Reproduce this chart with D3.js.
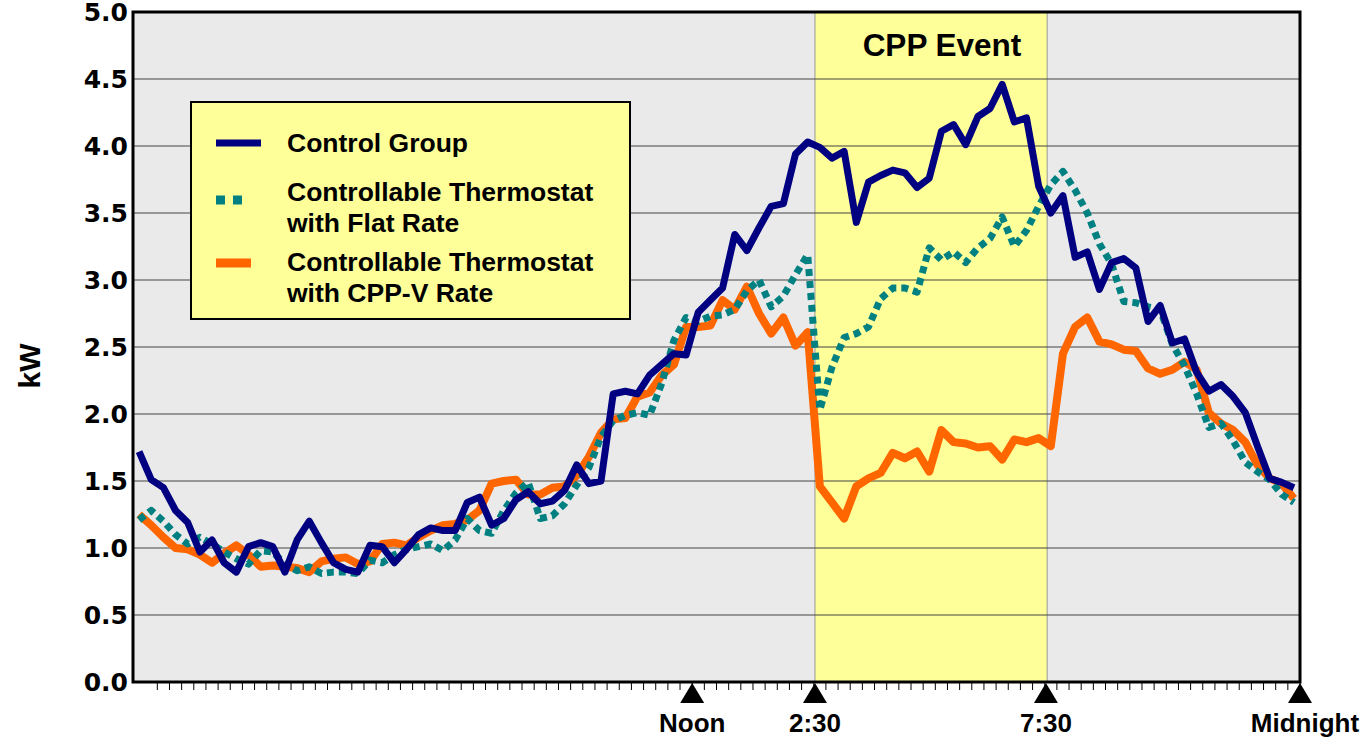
<!DOCTYPE html>
<html>
<head>
<meta charset="utf-8">
<script src="https://cdn.jsdelivr.net/npm/d3@7"></script>
<style>
  body { margin: 0; background: #fff; }
  svg text { font-family: "Liberation Sans", Arial, sans-serif; font-weight: bold; fill: #000; }
  .ytick { font-family: "DejaVu Sans", Verdana, sans-serif; }
</style>
</head>
<body>
<svg id="chart" width="1367" height="739"></svg>
<script>
// 15-minute intervals, midnight to midnight
const controlGroup = [1.72,1.51,1.45,1.28,1.19,0.97,1.06,0.89,0.82,1.01,1.04,1.01,0.82,1.06,1.20,1.04,
  0.89,0.84,0.82,1.02,1.01,0.89,0.99,1.10,1.15,1.13,1.13,1.34,1.38,1.17,1.22,1.36,
  1.42,1.33,1.35,1.43,1.62,1.48,1.50,2.15,2.17,2.15,2.29,2.37,2.45,2.44,2.76,2.85,
  2.94,3.34,3.22,3.39,3.55,3.57,3.94,4.03,3.99,3.91,3.96,3.43,3.73,3.78,3.82,3.80,
  3.69,3.76,4.11,4.16,4.01,4.22,4.28,4.46,4.18,4.21,3.70,3.50,3.63,3.17,3.21,2.93,
  3.13,3.16,3.09,2.69,2.81,2.53,2.56,2.31,2.17,2.22,2.13,2.01,1.76,1.52,1.49,1.45];

const flatRate = [1.21,1.28,1.20,1.10,1.03,1.08,1.03,0.97,0.92,0.88,0.98,0.97,0.88,0.83,0.86,0.81,
  0.82,0.82,0.81,0.91,0.89,0.95,0.99,1.01,1.03,0.98,1.06,1.22,1.13,1.11,1.28,1.41,
  1.49,1.22,1.24,1.33,1.47,1.60,1.83,1.95,1.99,2.01,1.99,2.23,2.55,2.72,2.69,2.73,
  2.74,2.78,2.92,3.00,2.80,2.88,3.04,3.19,2.03,2.35,2.57,2.60,2.65,2.86,2.94,2.94,
  2.91,3.24,3.15,3.21,3.13,3.24,3.31,3.47,3.25,3.37,3.55,3.71,3.81,3.67,3.50,3.27,
  3.12,2.84,2.83,2.80,2.78,2.52,2.36,2.15,1.90,1.93,1.80,1.64,1.57,1.51,1.40,1.34];

const cppRate = [1.25,1.17,1.08,1.00,0.99,0.95,0.89,0.96,1.02,0.95,0.86,0.87,0.86,0.85,0.82,0.90,
  0.92,0.93,0.88,0.90,1.03,1.04,1.02,1.08,1.13,1.17,1.18,1.21,1.28,1.48,1.50,1.51,
  1.40,1.40,1.45,1.46,1.54,1.68,1.86,1.96,1.97,2.13,2.16,2.29,2.37,2.65,2.65,2.66,
  2.85,2.78,2.95,2.75,2.60,2.72,2.51,2.61,1.46,1.34,1.22,1.46,1.52,1.56,1.71,1.67,
  1.72,1.57,1.88,1.79,1.78,1.75,1.76,1.66,1.81,1.79,1.82,1.76,2.45,2.65,2.72,2.54,
  2.52,2.48,2.47,2.34,2.30,2.33,2.39,2.33,2.01,1.93,1.88,1.79,1.62,1.52,1.48,1.37];

const yTicks = [0,0.5,1,1.5,2,2.5,3,3.5,4,4.5,5];
const markerLabels = ["Noon","2:30","7:30","Midnight"];
const markerPos = [45.5, 55.6, 74.6, 95.5];   // in interval units
const cppWindow = [55.6, 74.7];
const series = [
  {name: ["Controllable Thermostat","with CPP-V Rate"], values: cppRate, color: "#FF6600", dash: null, width: 8},
  {name: ["Controllable Thermostat","with Flat Rate"], values: flatRate, color: "#008080", dash: "7,5", width: 7},
  {name: ["Control Group"], values: controlGroup, color: "#000080", dash: null, width: 7}
];

const svg = d3.select("#chart");
const margin = {top: 12, left: 133, right: 1300, bottom: 682};

const x = d3.scaleLinear().domain([-0.5, 95.5]).range([margin.left, margin.right]);
const y = d3.scaleLinear().domain([0, 5]).range([margin.bottom, margin.top]);

// plot background
svg.append("rect")
  .attr("x", margin.left).attr("y", margin.top)
  .attr("width", margin.right - margin.left).attr("height", margin.bottom - margin.top)
  .attr("fill", "#EAEAEA");

// CPP event window
svg.append("rect")
  .attr("x", x(cppWindow[0])).attr("y", margin.top)
  .attr("width", x(cppWindow[1]) - x(cppWindow[0])).attr("height", margin.bottom - margin.top)
  .attr("fill", "#FFFF99").attr("stroke", "#999").attr("stroke-width", 1);

// grid
svg.append("g")
  .selectAll("line")
  .data(yTicks.filter(d => d > 0 && d < 5))
  .enter()
  .append("line")
  .attr("x1", margin.left).attr("x2", margin.right)
  .attr("y1", d => y(d)).attr("y2", d => y(d))
  .attr("stroke", "#444").attr("stroke-width", 1.2);

svg.append("text")
  .attr("x", 942)
  .attr("y", 56)
  .attr("text-anchor", "middle")
  .style("font-size", "31.5px")
  .text("CPP Event");

// series
const line = d3.line().x((d, i) => x(i)).y(d => y(d));
svg.append("g")
  .selectAll("path")
  .data(series)
  .enter()
  .append("path")
  .attr("d", d => line(d.values))
  .attr("fill", "none")
  .attr("stroke", d => d.color)
  .attr("stroke-width", d => d.width)
  .attr("stroke-dasharray", d => d.dash)
  .attr("stroke-linejoin", "round");

// frame
svg.append("rect")
  .attr("x", margin.left).attr("y", margin.top)
  .attr("width", margin.right - margin.left).attr("height", margin.bottom - margin.top)
  .attr("fill", "none").attr("stroke", "#000").attr("stroke-width", 3);

// y axis labels
svg.append("g")
  .selectAll("text")
  .data(yTicks)
  .enter()
  .append("text")
  .classed("ytick", true)
  .attr("x", 128)
  .attr("y", d => y(d))
  .attr("dy", "0.36em")
  .attr("text-anchor", "end")
  .style("font-size", "25px")
  .text(d => d.toFixed(1));

svg.append("text")
  .attr("transform", "translate(40,366) rotate(-90)")
  .attr("text-anchor", "middle")
  .style("font-size", "30px")
  .text("kW");

// x minor ticks (quarter hours)
svg.append("g")
  .selectAll("line")
  .data(d3.range(1, 96))
  .enter()
  .append("line")
  .attr("x1", d => x(d + 0.5)).attr("x2", d => x(d + 0.5))
  .attr("y1", margin.bottom + 1).attr("y2", margin.bottom + 8)
  .attr("stroke", "#000").attr("stroke-width", 1);

// time markers
const mk = svg.append("g")
  .selectAll("g")
  .data(markerPos)
  .enter()
  .append("g")
  .attr("transform", d => `translate(${x(d)},0)`);
mk.append("path")
  .attr("d", `M0,${margin.bottom + 1} L12,${margin.bottom + 21} L-12,${margin.bottom + 21} Z`)
  .attr("fill", "#000");
mk.append("text")
  .attr("y", 732)
  .attr("x", (d, i) => i === 3 ? 5 : 0)
  .attr("text-anchor", "middle")
  .style("font-size", "26px")
  .text((d, i) => markerLabels[i]);

// legend
const legend = svg.append("g");
legend.append("rect")
  .attr("x", 191).attr("y", 102).attr("width", 439).attr("height", 217)
  .attr("fill", "#FFFF99").attr("stroke", "#000").attr("stroke-width", 2);

const legendRows = [
  {s: series[2], swatchY: 143, lines: [152]},
  {s: series[1], swatchY: 200, lines: [201, 232]},
  {s: series[0], swatchY: 263, lines: [271, 302]}
];
legendRows.forEach(r => {
  legend.append("line")
    .attr("x1", 216).attr("x2", r.s.dash ? 244 : (r.s === series[2] ? 261 : 251))
    .attr("y1", r.swatchY).attr("y2", r.swatchY)
    .attr("stroke", r.s.color)
    .attr("stroke-width", r.s.dash ? 9 : (r.s === series[2] ? 7 : 9))
    .attr("stroke-dasharray", r.s.dash ? "9,8" : null);
  r.s.name.forEach((t, j) => {
    legend.append("text")
      .attr("x", 287).attr("y", r.lines[j])
      .style("font-size", "26.5px")
      .text(t);
  });
});
</script>
</body>
</html>
